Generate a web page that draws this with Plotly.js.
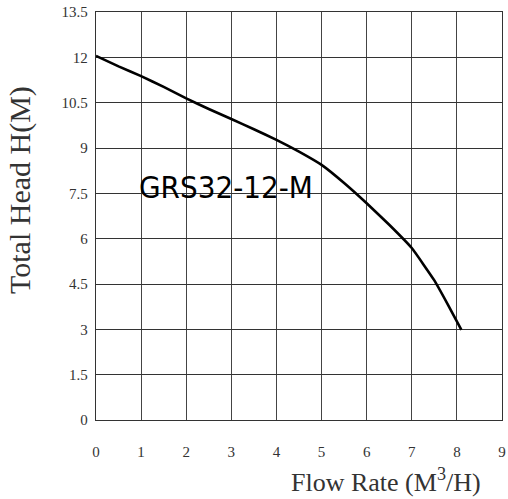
<!DOCTYPE html>
<html>
<head>
<meta charset="utf-8">
<script src="https://cdn.plot.ly/plotly-3.0.1.min.js"></script>
<style>
  html, body { margin: 0; padding: 0; background: #fff; }
  #graph { width: 508px; height: 499px; }
</style>
</head>
<body>
<div id="graph"></div>
<script>
// pump curve
var flow = [0, 0.5, 1, 1.5, 2, 2.5, 3, 3.5, 4, 4.5, 5, 5.5, 6, 6.5, 7, 7.5, 7.8, 8.1];
var head = [12.05, 11.7, 11.38, 11.02, 10.64, 10.29, 9.96, 9.62, 9.27, 8.88, 8.44, 7.84, 7.17, 6.46, 5.69, 4.62, 3.82, 2.98];

var xTicks = [0, 1, 2, 3, 4, 5, 6, 7, 8, 9];
var yTicks = [0, 1.5, 3, 4.5, 6, 7.5, 9, 10.5, 12, 13.5];

var modelName = "GRS32-12-M";

var tickFont = { family: "Liberation Sans Narrow", size: 15, color: "#333" };

var curve = {
  x: flow,
  y: head,
  mode: "lines",
  type: "scatter",
  line: { color: "#000", width: 2.6, shape: "spline", smoothing: 0.3 },
  hoverinfo: "skip"
};

var layout = {
  width: 508,
  height: 499,
  margin: { l: 96, r: 6, t: 12, b: 79 },
  paper_bgcolor: "#fff",
  plot_bgcolor: "#fff",
  showlegend: false,
  xaxis: {
    range: [0, 9],
    tickvals: xTicks,
    ticktext: xTicks.map(String),
    showgrid: true,
    gridcolor: "#444",
    gridwidth: 1,
    zeroline: false,
    showline: true,
    linecolor: "#333",
    linewidth: 1.2,
    mirror: true,
    ticks: "",
    ticklabelstandoff: 18,
    tickfont: tickFont,
    fixedrange: true
  },
  yaxis: {
    range: [0, 13.5],
    tickvals: yTicks,
    ticktext: yTicks.map(String),
    showgrid: true,
    gridcolor: "#333",
    gridwidth: 1,
    zeroline: false,
    showline: true,
    linecolor: "#333",
    linewidth: 1.2,
    mirror: true,
    ticks: "",
    ticklabelstandoff: 4,
    tickfont: tickFont,
    fixedrange: true
  },
  annotations: [
    {
      x: 2.88, y: 7.7, xref: "x", yref: "y",
      text: modelName,
      showarrow: false,
      font: { family: "DejaVu Sans Condensed", size: 31, color: "#000" }
    },
    {
      x: 386, y: 481, xref: "paper", yref: "paper",
      xanchor: "center", yanchor: "middle",
      text: "Flow Rate (M<sup>3</sup>/H)",
      showarrow: false,
      font: { family: "Liberation Serif", size: 26, color: "#333" }
    },
    {
      x: 20, y: 190, xref: "paper", yref: "paper",
      xanchor: "center", yanchor: "middle",
      text: "Total Head H(M)",
      textangle: -90,
      showarrow: false,
      font: { family: "Liberation Serif", size: 30, color: "#333" }
    }
  ]
};

// annotation positions above are in pixels; convert to paper fractions
var pw = layout.width - layout.margin.l - layout.margin.r;
var ph = layout.height - layout.margin.t - layout.margin.b;
[1, 2].forEach(function (i) {
  var a = layout.annotations[i];
  a.x = (a.x - layout.margin.l) / pw;
  a.y = (layout.height - layout.margin.b - a.y) / ph;
});

Plotly.newPlot("graph", [curve], layout, { displayModeBar: false, staticPlot: true });
</script>
</body>
</html>
